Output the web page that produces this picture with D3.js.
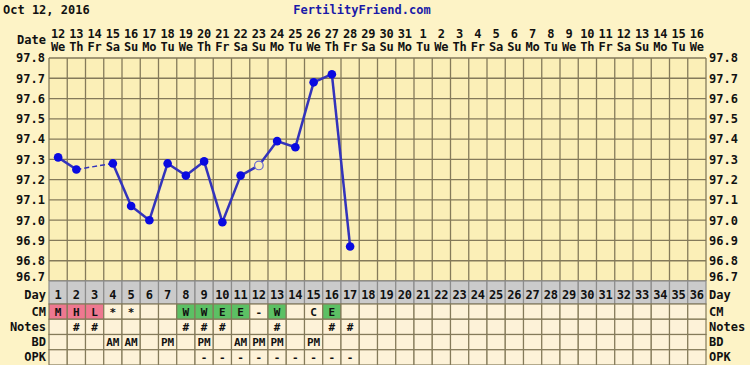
<!DOCTYPE html>
<html>
<head>
<meta charset="utf-8">
<script src="https://cdn.jsdelivr.net/npm/d3@7"></script>
<style>
  body { margin: 0; background: #fdf3c6; }
  text { font-family: "DejaVu Sans Mono", monospace; font-weight: bold; }
</style>
</head>
<body>
<script>
// chart data
var chartDate = "Oct 12, 2016";
var siteName = "FertilityFriend.com";
var cycleDays = d3.range(1, 37);
var dateNums = ["12","13","14","15","16","17","18","19","20","21","22","23","24","25","26","27","28","29","30","31",
                "1","2","3","4","5","6","7","8","9","10","11","12","13","14","15","16"];
var weekDays = ["We","Th","Fr","Sa","Su","Mo","Tu","We","Th","Fr","Sa","Su","Mo","Tu","We","Th","Fr","Sa","Su","Mo",
                "Tu","We","Th","Fr","Sa","Su","Mo","Tu","We","Th","Fr","Sa","Su","Mo","Tu","We"];
var tempTicks = [97.8, 97.7, 97.6, 97.5, 97.4, 97.3, 97.2, 97.1, 97.0, 96.9, 96.8, 96.7];
var temps = [97.31, 97.25, null, 97.28, 97.07, 97.00, 97.28, 97.22, 97.29, 96.99, 97.22, 97.27, 97.39, 97.36, 97.68, 97.72, 96.87];
var discardedDays = [12];
var cmValues = ["M","H","L","*","*","","","W","W","E","E","-","W","","C","E"];
var noteDays = [2, 3, 8, 9, 10, 13, 16, 17];
var bdDays = [4, 5, 7, 9, 11, 12, 13, 15];
var bdTimes = ["AM","AM","PM","PM","AM","PM","PM","PM"];
var opkDays = [9, 10, 11, 12, 13, 14, 15, 16, 17];
var rowNames = ["CM", "Notes", "BD", "OPK"];

(function () {
  var W = 750, H = 365;
  var pLeft = 49, pRight = 706, pTop = 58, pBottom = 281;
  var gridColor = "#847a5a";
  var ink = "#111";

  var svg = d3.select("body").append("svg").attr("width", W).attr("height", H);

  var x = d3.scaleBand().domain(cycleDays).range([pLeft, pRight]);
  var y = d3.scaleLinear().domain([96.7, 97.8]).range([pBottom, pTop]);
  var cx = function(d) { return x(d) + x.bandwidth() / 2; };

  // header
  svg.append("text").attr("x", 3).attr("y", 14).attr("font-size", 12).attr("fill", ink).text(chartDate);
  svg.append("text").attr("x", 362).attr("y", 14).attr("text-anchor", "middle").attr("font-size", 12)
    .attr("fill", "#1a1aa8").text(siteName);

  // date header
  svg.append("text").attr("x", 46).attr("y", 44).attr("text-anchor", "end").attr("font-size", 12).attr("fill", ink).text("Date");
  var head = svg.append("g").selectAll("g").data(cycleDays).enter().append("g");
  head.append("text").attr("x", cx).attr("y", 38).attr("text-anchor", "middle").attr("font-size", 12).attr("fill", ink)
    .text(function(d) { return dateNums[d - 1]; });
  head.append("text").attr("x", cx).attr("y", 51).attr("text-anchor", "middle").attr("font-size", 12).attr("fill", ink)
    .text(function(d) { return weekDays[d - 1]; });

  // plot background
  svg.append("rect").attr("x", pLeft).attr("y", pTop).attr("width", pRight - pLeft).attr("height", pBottom - pTop).attr("fill", "#fbefb7");

  // grid
  var grid = svg.append("g").attr("stroke", gridColor).attr("stroke-width", 1.3);
  grid.selectAll("line.h").data(tempTicks).enter().append("line").attr("class", "h")
    .attr("x1", pLeft).attr("x2", pRight).attr("y1", function(d) { return y(d); }).attr("y2", function(d) { return y(d); });
  grid.selectAll("line.v").data(cycleDays.concat([37])).enter().append("line").attr("class", "v")
    .attr("x1", function(d) { return d <= 36 ? x(d) : pRight; }).attr("x2", function(d) { return d <= 36 ? x(d) : pRight; })
    .attr("y1", pTop).attr("y2", pBottom);

  // temperature labels on both sides
  var axL = d3.axisLeft(y).tickValues(tempTicks).tickSize(0).tickPadding(4).tickFormat(d3.format(".1f"));
  var axR = d3.axisRight(y).tickValues(tempTicks).tickSize(0).tickPadding(3).tickFormat(d3.format(".1f"));
  [svg.append("g").attr("transform", "translate(" + pLeft + ",0)").call(axL),
   svg.append("g").attr("transform", "translate(" + pRight + ",0)").call(axR)].forEach(function(g) {
    g.select(".domain").remove();
    g.selectAll("text").attr("font-size", 12).attr("fill", ink).attr("font-family", "DejaVu Sans Mono").attr("font-weight", "bold");
  });
  svg.selectAll(".tick").filter(function(d) { return d === 96.7; }).select("text").attr("dy", "-0.05em");

  // temperature line
  var pts = [];
  temps.forEach(function(t, i) { if (t !== null) pts.push({ day: i + 1, t: t }); });
  var segs = [];
  for (var i = 1; i < pts.length; i++) segs.push({ a: pts[i - 1], b: pts[i], gap: pts[i].day - pts[i - 1].day > 1 });
  svg.append("g").selectAll("line").data(segs).enter().append("line")
    .attr("x1", function(d) { return cx(d.a.day); }).attr("y1", function(d) { return y(d.a.t); })
    .attr("x2", function(d) { return cx(d.b.day); }).attr("y2", function(d) { return y(d.b.t); })
    .attr("stroke", "#3333bb").attr("stroke-width", function(d) { return d.gap ? 1.5 : 2.5; })
    .attr("stroke-dasharray", function(d) { return d.gap ? "5,3" : null; });
  svg.append("g").selectAll("circle").data(pts).enter().append("circle")
    .attr("cx", function(d) { return cx(d.day); }).attr("cy", function(d) { return y(d.t); }).attr("r", 4.3)
    .attr("fill", function(d) { return discardedDays.indexOf(d.day) >= 0 ? "#fbefb7" : "#0a0ae0"; })
    .attr("stroke", function(d) { return discardedDays.indexOf(d.day) >= 0 ? "#6a6ad0" : "none"; })
    .attr("stroke-width", 1.2);

  // bottom table
  var dayTop = 281, dayH = 23, rowH = 15.25;
  var tbl = svg.append("g");
  tbl.selectAll("rect.day").data(cycleDays).enter().append("rect").attr("class", "day")
    .attr("x", function(d) { return x(d); }).attr("y", dayTop).attr("width", x.bandwidth()).attr("height", dayH)
    .attr("fill", "#cbcbcb").attr("stroke", "#8c8c8c").attr("stroke-width", 1.2);
  tbl.selectAll("text.day").data(cycleDays).enter().append("text").attr("class", "day")
    .attr("x", cx).attr("y", dayTop + 18).attr("text-anchor", "middle").attr("font-size", 12).attr("fill", ink)
    .text(function(d) { return d; });

  var cmColor = function(v) {
    if (v === "M" || v === "H" || v === "L") return "#ee7890";
    if (v === "W" || v === "E") return "#5cc064";
    return "#fdf2d8";
  };
  var rowText = [
    function(d) { return cmValues[d - 1] || ""; },
    function(d) { return noteDays.indexOf(d) >= 0 ? "#" : ""; },
    function(d) { var k = bdDays.indexOf(d); return k >= 0 ? bdTimes[k] : ""; },
    function(d) { return opkDays.indexOf(d) >= 0 ? "-" : ""; }
  ];
  rowNames.forEach(function(name, r) {
    var ry = dayTop + dayH + r * rowH;
    var g = tbl.append("g");
    g.selectAll("rect").data(cycleDays).enter().append("rect")
      .attr("x", function(d) { return x(d); }).attr("y", ry).attr("width", x.bandwidth()).attr("height", rowH)
      .attr("fill", function(d) { return r === 0 ? cmColor(cmValues[d - 1]) : "#fdf2d8"; })
      .attr("stroke", gridColor).attr("stroke-width", 1.2);
    g.selectAll("text").data(cycleDays).enter().append("text")
      .attr("x", cx).attr("y", ry + 11.5).attr("text-anchor", "middle").attr("font-size", 11).attr("fill", ink)
      .text(rowText[r]);
    svg.append("text").attr("x", 46).attr("y", ry + 11.5).attr("text-anchor", "end").attr("font-size", 12).attr("fill", ink).text(name);
    svg.append("text").attr("x", 709).attr("y", ry + 11.5).attr("font-size", 12).attr("fill", ink).text(name);
  });
  svg.append("text").attr("x", 46).attr("y", dayTop + 18).attr("text-anchor", "end").attr("font-size", 12).attr("fill", ink).text("Day");
  svg.append("text").attr("x", 709).attr("y", dayTop + 18).attr("font-size", 12).attr("fill", ink).text("Day");
})();
</script>
</body>
</html>
